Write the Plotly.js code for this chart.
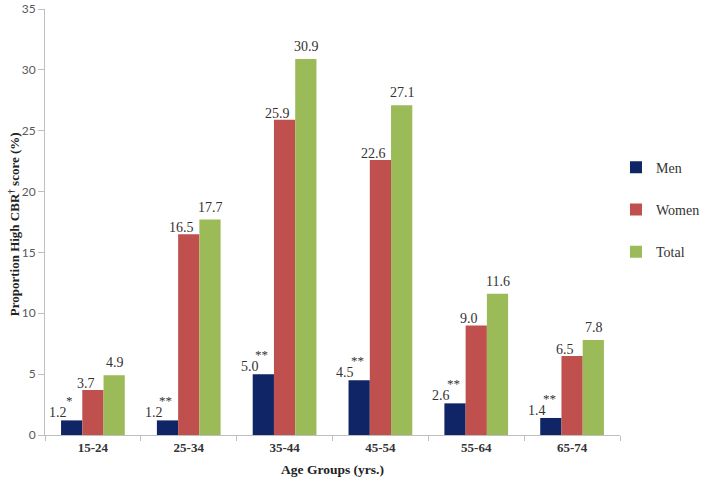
<!DOCTYPE html>
<html>
<head>
<meta charset="utf-8">
<script src="https://cdn.plot.ly/plotly-3.0.1.min.js"></script>
<style>body{margin:0;background:#fff;} #plot{width:714px;height:484px;}</style>
</head>
<body>
<div id="plot"></div>
<script>
var ageGroups = ['15-24', '25-34', '35-44', '45-54', '55-64', '65-74'];
var men = [1.2, 1.2, 5.0, 4.5, 2.6, 1.4];
var women = [3.7, 16.5, 25.9, 22.6, 9.0, 6.5];
var total = [4.9, 17.7, 30.9, 27.1, 11.6, 7.8];
var menStars = ['*', '**', '**', '**', '**', '**'];

var serif = 'Liberation Serif, Times New Roman, serif';

function makeBar(name, vals, color){
  return {
    x: ageGroups,
    y: vals,
    name: name,
    type: 'bar',
    legendgroup: name,
    marker: {color: color},
    hoverinfo: 'x+y'
  };
}

var data = [
  makeBar('Men', men, '#0f2566'),
  makeBar('Women', women, '#c0504d'),
  makeBar('Total', total, '#9bbb59')
];

// value labels: Excel put them a bit left of each bar
function label(cat, v, txt, dx, dy, size){
  return {
    x: cat, y: v, xref: 'x', yref: 'y',
    text: txt, showarrow: false,
    xshift: dx, yanchor: 'bottom', yshift: dy,
    font: {family: serif, size: size, color: '#333'}
  };
}

var annotations = [];
for (var i = 0; i < ageGroups.length; i++) {
  annotations.push(label(ageGroups[i], men[i], men[i].toFixed(1), -35, -2, 14));
  annotations.push(label(ageGroups[i], men[i], menStars[i], -23, 10, 13));
  annotations.push(label(ageGroups[i], women[i], women[i].toFixed(1), -7, -3, 14));
  annotations.push(label(ageGroups[i], total[i], total[i].toFixed(1), 22, 3, 14));
}

annotations.push({
  x: -45 / 596 + 13 / 596, y: 0.495, xref: 'paper', yref: 'paper',
  xanchor: 'center', yanchor: 'middle', textangle: -90, showarrow: false,
  text: '<b>Proportion High CBR<sup>†</sup> score (%)</b>',
  font: {family: serif, size: 13, color: '#222'}
});

var layout = {
  width: 714,
  height: 484,
  margin: {l: 45, r: 73, t: 9, b: 49},
  paper_bgcolor: '#fff',
  plot_bgcolor: '#fff',
  barmode: 'group',
  bargap: 0.335,
  bargroupgap: 0,
  showlegend: true,
  legend: {
    x: 0.993, y: 0.665, xanchor: 'left', yanchor: 'top',
    traceorder: 'grouped',
    tracegroupgap: 21,
    font: {family: serif, size: 14, color: '#333'},
    itemwidth: 30
  },
  xaxis: {
    type: 'category',
    showline: true, linecolor: '#bfbfbf', linewidth: 1,
    ticks: 'outside', ticklen: 5, tickcolor: '#bfbfbf',
    tickson: 'boundaries',
    tickfont: {family: serif, size: 13, color: '#333', weight: 'bold'},
    title: {text: '<b>Age Groups (yrs.)</b>', font: {family: serif, size: 13.5, color: '#222'}, standoff: 10}
  },
  yaxis: {
    range: [0, 35],
    dtick: 5,
    showgrid: false,
    zeroline: false,
    showline: true, linecolor: '#bfbfbf', linewidth: 1,
    ticks: 'outside', ticklen: 6, tickcolor: '#bfbfbf',
    tickfont: {family: 'Lato, Liberation Sans, Arial, sans-serif', size: 12, color: '#595959'}
  },
  annotations: annotations
};

Plotly.newPlot('plot', data, layout, {displaylogo: false, staticPlot: true});
</script>
</body>
</html>
